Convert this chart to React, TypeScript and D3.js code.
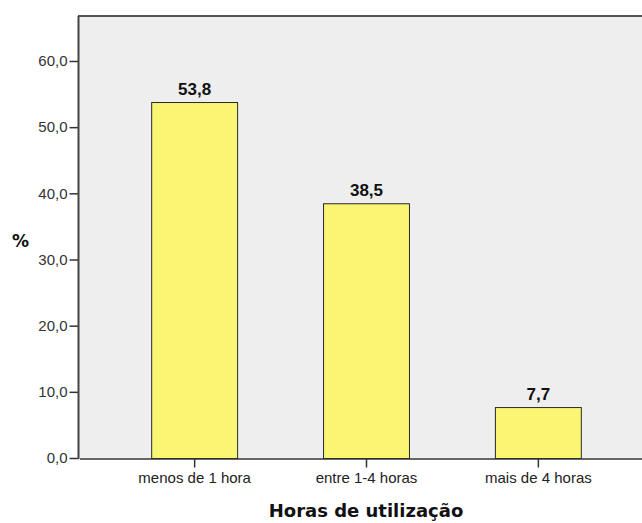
import { useEffect, useRef } from "react";
import * as d3 from "d3";

const categories = ["menos de 1 hora", "entre 1-4 horas", "mais de 4 horas"];
const percentValues = [53.8, 38.5, 7.7];
const yTicks = [0, 10, 20, 30, 40, 50, 60];

const fmt = (v: number) => v.toFixed(1).replace(".", ",");

export default function App() {
  const svgRef = useRef<SVGSVGElement>(null);

  useEffect(() => {
    const width = 642, height = 523;
    const plot = { left: 79, top: 16, right: 653, bottom: 458 };
    const font = "'Liberation Sans', Arial, sans-serif";

    const svg = d3.select(svgRef.current)
      .attr("width", width)
      .attr("height", height);
    svg.selectAll("*").remove();

    const x = d3.scaleBand<string>()
      .domain(categories)
      .range([plot.left, plot.right])
      .paddingInner(0.5)
      .paddingOuter(0.42);

    const y = d3.scaleLinear()
      .domain([0, 66.8])
      .range([plot.bottom, plot.top]);

    // plot background and frame
    svg.append("rect")
      .attr("x", plot.left)
      .attr("y", plot.top)
      .attr("width", plot.right - plot.left)
      .attr("height", plot.bottom - plot.top)
      .attr("fill", "#eeeeee");

    svg.append("line")
      .attr("x1", plot.left - 1).attr("x2", width)
      .attr("y1", plot.top).attr("y2", plot.top)
      .attr("stroke", "#555").attr("stroke-width", 2);

    // bars
    svg.append("g")
      .selectAll("rect")
      .data(percentValues)
      .join("rect")
      .attr("x", (_, i) => x(categories[i])! + 0.5)
      .attr("y", (d) => y(d) + 0.5)
      .attr("width", x.bandwidth())
      .attr("height", (d) => y(0) - y(d))
      .attr("fill", "#faf573")
      .attr("stroke", "#2a2a2a")
      .attr("stroke-width", 1);

    // value labels
    svg.append("g")
      .selectAll("text")
      .data(percentValues)
      .join("text")
      .attr("x", (_, i) => x(categories[i])! + x.bandwidth() / 2 + 0.5)
      .attr("y", (d) => y(d) - 7)
      .attr("text-anchor", "middle")
      .attr("font-family", font)
      .attr("font-weight", "bold")
      .attr("font-size", 17)
      .attr("fill", "#111")
      .text((d) => fmt(d));

    // y axis
    const yAxis = svg.append("g")
      .attr("transform", `translate(${plot.left - 0.5},0)`)
      .call(d3.axisLeft(y).tickValues(yTicks).tickSize(9).tickPadding(2).tickFormat((d) => fmt(+d)));
    yAxis.select(".domain").remove();
    yAxis.selectAll(".tick line").attr("stroke", "#333").attr("stroke-width", 1.5);
    yAxis.selectAll("text")
      .attr("font-family", font)
      .attr("font-size", 15)
      .attr("fill", "#333");
    svg.append("line")
      .attr("x1", plot.left - 0.5).attr("x2", plot.left - 0.5)
      .attr("y1", plot.top).attr("y2", plot.bottom + 1)
      .attr("stroke", "#444").attr("stroke-width", 2);

    // x axis
    const xAxis = svg.append("g")
      .attr("transform", `translate(0.5,${plot.bottom + 0.5})`)
      .call(d3.axisBottom(x).tickSize(9).tickPadding(5).tickSizeOuter(0));
    xAxis.select(".domain").attr("stroke", "#333").attr("stroke-width", 1.5);
    xAxis.selectAll(".tick line").attr("stroke", "#333").attr("stroke-width", 1.5);
    xAxis.selectAll("text")
      .attr("font-family", font)
      .attr("font-size", 15)
      .attr("fill", "#222");

    // axis titles
    svg.append("text")
      .attr("x", (plot.left + 653) / 2)
      .attr("y", 517)
      .attr("text-anchor", "middle")
      .attr("font-family", "'DejaVu Sans', Verdana, sans-serif")
      .attr("font-weight", "bold")
      .attr("font-size", 18)
      .attr("fill", "#111")
      .text("Horas de utilização");

    svg.append("text")
      .attr("x", 20.5)
      .attr("y", 247)
      .attr("text-anchor", "middle")
      .attr("font-family", "'DejaVu Sans', Verdana, sans-serif")
      .attr("font-weight", "bold")
      .attr("font-size", 17)
      .attr("fill", "#111")
      .text("%");
  }, []);

  return <svg ref={svgRef} style={{ display: "block", position: "absolute", left: 0, top: 0 }} />;
}
